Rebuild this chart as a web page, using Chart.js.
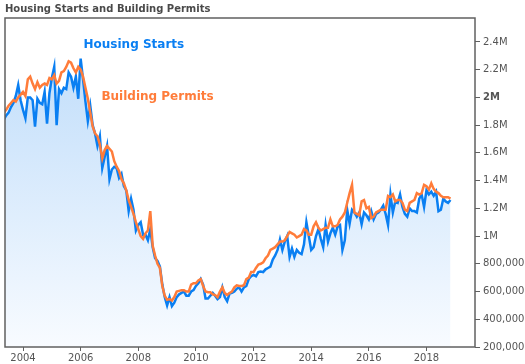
<!DOCTYPE html>
<html>
<head>
<meta charset="utf-8">
<script src="https://cdn.jsdelivr.net/npm/chart.js@4.4.1/dist/chart.umd.min.js"></script>
<style>
    body { margin: 0; background: #fff; }
    #wrap { width: 525px; height: 364px; position: relative; }
</style>
</head>
<body>
<div id="wrap"><canvas id="housingChart"></canvas></div>
<script>
// monthly series, thousands of units (SAAR), first value = May 2003
const firstYear = 2003;
const firstMonth = 4; // May, 0-based

const housingStarts = [
    1840, 1870, 1890, 1930, 1960, 2010, 2090, 1980,                     // 2003
    1910, 1850, 2000, 2000, 1980, 1790, 1990, 1960, 1950, 2040, 1810, 2030, // 2004
    2140, 2220, 1800, 2060, 2030, 2070, 2060, 2180, 2150, 2070, 2150, 1990, // 2005
    2280, 2130, 1970, 1830, 1940, 1800, 1740, 1650, 1720, 1490, 1570, 1650, // 2006
    1410, 1480, 1500, 1490, 1420, 1450, 1360, 1330, 1180, 1270, 1190, 1040, // 2007
    1080, 1100, 1010, 1010, 970, 1050, 920, 840, 820, 780, 650, 560,       // 2008
    500, 560, 495, 520, 560, 580, 590, 600, 570, 570, 600, 610,           // 2009
    640, 660, 690, 650, 550, 550, 570, 590, 570, 545, 560, 630,           // 2010
    560, 530, 585, 590, 600, 620, 630, 600, 630, 640, 690, 710,           // 2011
    720, 710, 740, 745, 740, 760, 770, 780, 830, 860, 900, 975,           // 2012
    900, 960, 1000, 850, 910, 850, 900, 880, 870, 940, 1100, 1000,        // 2013
    900, 920, 1000, 1050, 980, 920, 1080, 960, 1020, 1060, 1010, 1070,    // 2014
    1080, 900, 970, 1190, 1090, 1190, 1170, 1140, 1170, 1085, 1170, 1150, // 2015
    1120, 1180, 1120, 1160, 1170, 1190, 1220, 1160, 1080, 1300, 1170, 1250, // 2016
    1240, 1300, 1210, 1160, 1140, 1200, 1180, 1180, 1170, 1270, 1300, 1210, // 2017
    1330, 1300, 1320, 1290, 1320, 1180, 1190, 1270, 1250, 1240, 1260       // 2018
];

const buildingPermits = [
    1890, 1910, 1940, 1960, 1980, 1970, 2000, 2020,                       // 2003
    2040, 2010, 2130, 2150, 2100, 2060, 2110, 2070, 2090, 2100, 2090, 2140, // 2004
    2130, 2160, 2100, 2120, 2180, 2190, 2220, 2260, 2250, 2210, 2180, 2220, // 2005
    2200, 2150, 2070, 1990, 1890, 1790, 1740, 1720, 1660, 1560, 1620, 1650, // 2006
    1630, 1610, 1540, 1500, 1470, 1410, 1380, 1330, 1260, 1210, 1160, 1100, // 2007
    1050, 1000, 980, 1020, 1040, 1180, 930, 860, 800, 770, 640, 570,      // 2008
    540, 545, 535, 560, 600, 605, 610, 610, 600, 600, 650, 660,           // 2009
    660, 680, 690, 640, 600, 595, 595, 580, 575, 560, 600, 630,           // 2010
    590, 575, 590, 600, 630, 645, 640, 640, 645, 690, 700, 740,           // 2011
    740, 770, 795, 800, 810, 840, 860, 900, 910, 920, 940, 960,           // 2012
    960, 970, 1000, 1030, 1020, 1010, 990, 1000, 1010, 1050, 1040, 1010,  // 2013
    1010, 1070, 1100, 1060, 1040, 1050, 1060, 1060, 1120, 1070, 1070, 1080, // 2014
    1120, 1140, 1170, 1240, 1310, 1370, 1170, 1160, 1150, 1250, 1260, 1200, // 2015
    1210, 1130, 1140, 1170, 1180, 1190, 1190, 1190, 1290, 1280, 1300, 1250, // 2016
    1260, 1260, 1240, 1190, 1180, 1240, 1250, 1260, 1310, 1300, 1310, 1370, // 2017
    1360, 1335, 1380, 1340, 1320, 1310, 1290, 1280, 1280, 1280, 1270       // 2018
];

const yearTicks = [2004, 2006, 2008, 2010, 2012, 2014, 2016, 2018];
const valueTicks = [200000, 400000, 600000, 800000, 1000000, 1200000, 1400000,
                    1600000, 1800000, 2000000, 2200000, 2400000];

const blue = '#0a7ff2';
const orange = '#ff7c3a';
const axisGrey = '#606060';
const tickFont = "'DejaVu Sans', sans-serif";

function toPoints(values) {
    return values.map((v, i) => ({ x: firstYear + (firstMonth + i) / 12, y: v * 1000 }));
}

function formatValue(v) {
    if (v >= 1000000) return (v / 1000000) + 'M';
    return v.toString().replace(/\B(?=(\d{3})+(?!\d))/g, ',');
}

// frame round the plot, title and the two series names
const decorations = {
    id: 'decorations',
    afterDatasetsDraw(chart) {
        const { ctx, chartArea, scales } = chart;
        ctx.save();
        ctx.strokeStyle = axisGrey;
        ctx.lineWidth = 1.5;
        ctx.strokeRect(chartArea.left, chartArea.top, chartArea.right - chartArea.left, chartArea.bottom - chartArea.top);

        ctx.textBaseline = 'middle';
        ctx.textAlign = 'left';
        ctx.fillStyle = '#4a4a4a';
        ctx.font = "bold 10px 'DejaVu Sans', sans-serif";
        ctx.fillText('Housing Starts and Building Permits', 5, 9);

        ctx.font = "bold 12px 'DejaVu Sans', sans-serif";
        ctx.fillStyle = blue;
        ctx.fillText('Housing Starts', scales.x.getPixelForValue(2006.1), scales.y.getPixelForValue(2380000));
        ctx.fillStyle = orange;
        ctx.fillText('Building Permits', scales.x.getPixelForValue(2006.72), scales.y.getPixelForValue(2005000));
        ctx.restore();
    }
};

const ctx = document.getElementById('housingChart');

new Chart(ctx.getContext('2d'), {
    type: 'line',
    data: {
        datasets: [
            {
                label: 'Housing Starts',
                data: toPoints(housingStarts),
                borderColor: blue,
                borderWidth: 2.5,
                pointRadius: 0,
                tension: 0,
                fill: 'start',
                order: 2,
                backgroundColor: function(context) {
                    const area = context.chart.chartArea;
                    if (!area) return 'rgba(200, 225, 250, 0.8)';
                    const g = context.chart.ctx.createLinearGradient(0, area.top, 0, area.bottom);
                    g.addColorStop(0, 'rgb(186, 218, 250)');
                    g.addColorStop(1, 'rgb(248, 251, 255)');
                    return g;
                }
            },
            {
                label: 'Building Permits',
                data: toPoints(buildingPermits),
                borderColor: orange,
                borderWidth: 2.5,
                pointRadius: 0,
                tension: 0,
                fill: false,
                order: 1
            }
        ]
    },
    options: {
        responsive: true,
        maintainAspectRatio: false,
        animation: false,
        layout: {
            padding: { top: 18, left: 5, right: 0, bottom: 0 }
        },
        plugins: {
            legend: { display: false },
            tooltip: { enabled: false },
            title: { display: false }
        },
        scales: {
            x: {
                type: 'linear',
                min: 2003.375,
                max: 2019.684,
                afterBuildTicks: (scale) => { scale.ticks = yearTicks.map(v => ({ value: v })); },
                afterFit: (scale) => { scale.height = 17; },
                border: { display: false },
                grid: {
                    drawOnChartArea: false,
                    drawTicks: true,
                    tickLength: 4,
                    color: axisGrey
                },
                ticks: {
                    autoSkip: false,
                    maxRotation: 0,
                    padding: 1,
                    color: '#555',
                    font: { size: 10, family: tickFont },
                    callback: (v) => v.toString()
                }
            },
            y: {
                position: 'right',
                min: 200000,
                max: 2572700,
                afterBuildTicks: (scale) => { scale.ticks = valueTicks.map(v => ({ value: v })); },
                afterFit: (scale) => { scale.width = 50; },
                border: { display: false },
                grid: {
                    drawOnChartArea: false,
                    drawTicks: true,
                    tickLength: 5,
                    color: axisGrey
                },
                ticks: {
                    autoSkip: false,
                    padding: 3,
                    color: '#555',
                    font: function(context) {
                        const bold = context.tick && context.tick.value === 2000000;
                        return { size: 10, family: tickFont, weight: bold ? 'bold' : 'normal' };
                    },
                    callback: (v) => formatValue(v)
                }
            }
        }
    },
    plugins: [decorations]
});
</script>
</body>
</html>
